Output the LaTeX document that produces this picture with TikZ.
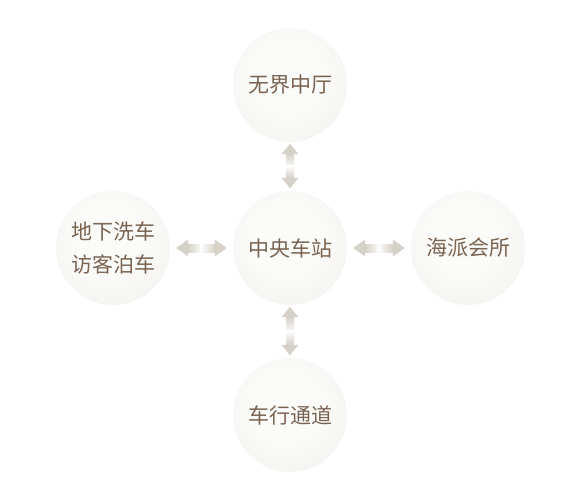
\documentclass[tikz,border=0pt]{standalone}
\usepackage{fontspec}
\newfontfamily\cjk{Noto Sans CJK SC}
\usetikzlibrary{calc}
\definecolor{txtc}{HTML}{7A6350}
\definecolor{arrowc}{HTML}{D6D1C8}
\definecolor{ballA}{HTML}{FBFBFA}
\definecolor{ballB}{HTML}{F4F3F0}
\definecolor{ballC}{HTML}{ECEAE5}
\definecolor{ballD}{HTML}{E2DFD9}
\pgfdeclareradialshading{ball}{\pgfpoint{-3bp}{6bp}}{%
  color(0bp)=(ballA); color(14bp)=(ballA);
  color(32bp)=(ballB); color(45bp)=(ballC);
  color(50bp)=(ballD)}
\tikzset{
  station/.style={circle, minimum size=114pt, inner sep=0pt, shading=ball,
    text=txtc, font=\cjk\fontsize{21}{33}\selectfont, align=center},
}
% vertical connector: #1 lower node, #2 upper node
\newcommand\vconn[2]{%
  \path (#1.north) -- (#2.south) coordinate[midway] (m#1#2);
  \shade[bottom color=white, top color=arrowc] ($(m#1#2)+(-4,-1)$) rectangle ($(#2.south)+(4,-12)$);
  \fill[arrowc] ($(#2.south)+(0,-1.5)$) -- ($(#2.south)+(-8.5,-12)$) -- ($(#2.south)+(8.5,-12)$) -- cycle;
  \shade[top color=white, bottom color=arrowc] ($(m#1#2)+(-4,1)$) rectangle ($(#1.north)+(4,13)$);
  \fill[arrowc] ($(#1.north)+(0,2.5)$) -- ($(#1.north)+(-8.5,13)$) -- ($(#1.north)+(8.5,13)$) -- cycle;
}
% horizontal connector: #1 left node, #2 right node
\newcommand\hconn[2]{%
  \path (#1.east) -- (#2.west) coordinate[midway] (m#1#2);
  \shade[right color=white, left color=arrowc] ($(m#1#2)+(1,-4)$) rectangle ($(#1.east)+(18,4)$);
  \fill[arrowc] ($(#1.east)+(6,0)$) -- ($(#1.east)+(18,8.5)$) -- ($(#1.east)+(18,-8.5)$) -- cycle;
  \shade[left color=white, right color=arrowc] ($(m#1#2)+(-1,-4)$) rectangle ($(#2.west)+(-18,4)$);
  \fill[arrowc] ($(#2.west)+(-6,0)$) -- ($(#2.west)+(-18,8.5)$) -- ($(#2.west)+(-18,-8.5)$) -- cycle;
}
\begin{document}
\begin{tikzpicture}[x=1pt,y=1pt]
\useasboundingbox (0,0) rectangle (585,501);
\node[station] (c) at (290,253) {中央车站};
\node[station] (t) at (290,416) {无界中厅};
\node[station] (b) at (290,86) {车行通道};
\node[station] (l) at (113,253) {地下洗车\\访客泊车};
\node[station] (r) at (468,253) {海派会所};
\vconn{c}{t}
\vconn{b}{c}
\hconn{l}{c}
\hconn{c}{r}
\end{tikzpicture}
\end{document}
